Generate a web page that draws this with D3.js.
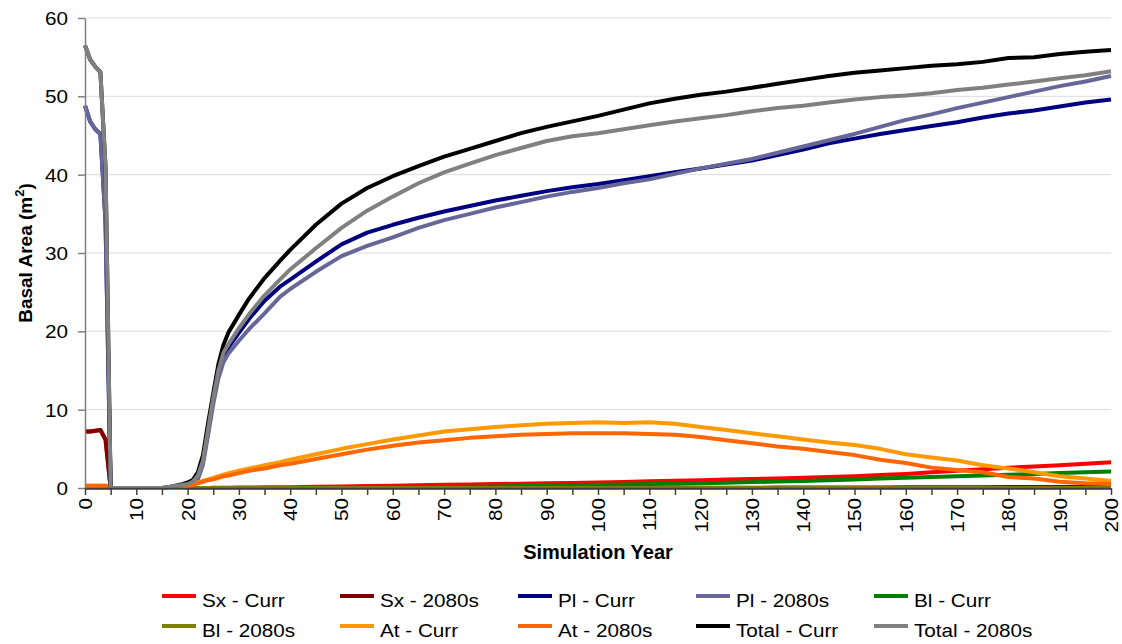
<!DOCTYPE html>
<html>
<head>
<meta charset="utf-8">
<script src="https://cdnjs.cloudflare.com/ajax/libs/d3/7.8.5/d3.min.js"></script>
<style>
  body { margin: 0; background: #fff; }
  svg { display: block; font-family: "Liberation Sans", Arial, sans-serif; }
</style>
</head>
<body>
<svg id="chart" width="1122" height="644"></svg>
<script>
var WIDTH = 1122;
var HEIGHT = 644;
var MARGIN = {top: 18, right: 11, bottom: 156, left: 85};
var TICK_FONT = 18;
var TEXT_STRETCH = 1.15;

// simulation years
var years = [0,1,2,3,4,5,10,15,17,19,
    20,21,22,23,24,25,26,27,28,30,
    32,35,38,40,45,50,55,60,65,70,
    75,80,85,90,95,100,105,110,115,120,
    125,130,135,140,145,150,155,160,165,170,
    175,180,185,190,195,200];

var sxCurr = [7.2,7.2,7.3,7.4,6.2,0,0,0,0,0,
    0,0,0,0.01,0.01,0.02,0.02,0.03,0.03,0.05,
    0.06,0.08,0.1,0.1,0.15,0.2,0.25,0.3,0.35,0.4,
    0.45,0.5,0.55,0.6,0.65,0.7,0.78,0.85,0.92,1.0,
    1.08,1.15,1.22,1.3,1.4,1.5,1.65,1.8,2.0,2.2,
    2.4,2.6,2.75,2.9,3.1,3.3];

var sx2080 = [7.2,7.2,7.3,7.4,6.2,0,0,0,0,0,
    0,0,0,0,0,0,0,0,0,0,
    0,0,0,0,0,0,0,0,0.01,0.01,
    0.01,0.01,0.01,0.02,0.02,0.02,0.02,0.03,0.03,0.03,
    0.04,0.04,0.05,0.05,0.06,0.06,0.07,0.08,0.09,0.1,
    0.11,0.12,0.13,0.14,0.15,0.15];

var plCurr = [48.8,46.8,45.8,45.2,34,0,0,0,0,0.1,
    0.2,0.5,1.3,3.4,7.2,11.2,14.6,16.9,18.0,19.8,
    21.6,23.9,25.7,26.6,28.9,31.1,32.6,33.6,34.5,35.3,
    36.0,36.7,37.3,37.9,38.4,38.8,39.3,39.8,40.3,40.8,
    41.3,41.8,42.5,43.2,44.0,44.6,45.2,45.7,46.2,46.7,
    47.3,47.8,48.2,48.7,49.2,49.6];

var pl2080 = [48.8,46.8,45.8,45.2,34,0,0,0,0,0.1,
    0.2,0.4,1.1,3.0,6.8,10.7,14.0,16.1,17.2,18.8,
    20.3,22.3,24.4,25.4,27.6,29.6,30.9,32.0,33.2,34.2,
    35.0,35.8,36.5,37.2,37.8,38.3,38.9,39.4,40.1,40.8,
    41.4,42.0,42.8,43.6,44.4,45.2,46.1,47.0,47.7,48.5,
    49.2,49.9,50.6,51.3,51.9,52.6];

var blCurr = [0,0,0,0,0,0,0,0,0,0,
    0,0,0,0,0,0,0,0,0,0,
    0,0,0,0,0,0,0.02,0.05,0.08,0.1,
    0.15,0.2,0.25,0.3,0.35,0.4,0.45,0.5,0.55,0.6,
    0.68,0.75,0.82,0.9,1.0,1.1,1.2,1.3,1.4,1.5,
    1.6,1.7,1.8,1.9,2.0,2.1];

var bl2080 = [0,0,0,0,0,0,0,0,0,0,
    0,0,0,0,0,0,0,0,0,0,
    0,0,0,0,0,0,0,0,0,0,
    0,0,0,0,0,0,0,0,0,0,
    0,0,0,0,0,0,0,0,0,0,
    0,0,0,0,0,0];

var atCurr = [0.3,0.3,0.3,0.3,0.3,0,0,0,0,0.1,
    0.3,0.5,0.7,0.9,1.1,1.3,1.5,1.7,1.9,2.2,
    2.5,2.9,3.3,3.6,4.3,5.0,5.6,6.2,6.7,7.2,
    7.5,7.8,8.0,8.2,8.3,8.4,8.3,8.4,8.2,7.8,
    7.4,7.0,6.6,6.2,5.8,5.5,5.0,4.3,3.9,3.5,
    2.9,2.5,2.0,1.5,1.2,0.9];

var at2080 = [0.3,0.3,0.3,0.3,0.3,0,0,0,0,0.1,
    0.2,0.4,0.6,0.8,1.0,1.1,1.3,1.5,1.6,1.9,
    2.2,2.5,2.9,3.1,3.7,4.3,4.9,5.4,5.8,6.1,
    6.4,6.6,6.8,6.9,7.0,7.0,7.0,6.9,6.8,6.5,
    6.1,5.7,5.3,5.0,4.6,4.2,3.6,3.2,2.6,2.3,
    2.0,1.4,1.2,0.8,0.6,0.5];

var totalCurr = [56.5,54.7,53.8,53.1,41,0,0,0,0.2,0.5,
    0.7,1.0,2.0,4.2,8.3,12.1,15.8,18.3,19.9,22.1,
    24.2,26.8,29.0,30.4,33.6,36.3,38.3,39.8,41.1,42.3,
    43.3,44.3,45.3,46.1,46.8,47.5,48.3,49.1,49.7,50.2,
    50.6,51.1,51.6,52.1,52.6,53.0,53.3,53.6,53.9,54.1,
    54.4,54.9,55.0,55.4,55.7,55.9];

var total2080 = [56.5,54.7,53.8,53.1,41,0,0,0,0.2,0.4,
    0.5,0.8,1.6,3.5,7.5,11.5,15.0,17.3,18.4,20.4,
    22.2,24.6,26.6,27.9,30.6,33.2,35.4,37.2,38.9,40.3,
    41.4,42.5,43.4,44.3,44.9,45.3,45.8,46.3,46.8,47.2,
    47.6,48.1,48.5,48.8,49.2,49.6,49.9,50.1,50.4,50.8,
    51.1,51.5,51.9,52.3,52.7,53.2];

var seriesNames = ["Sx - Curr", "Sx - 2080s", "Pl - Curr", "Pl - 2080s", "Bl - Curr",
    "Bl - 2080s", "At - Curr", "At - 2080s", "Total - Curr", "Total - 2080s"];
var seriesValues = [sxCurr, sx2080, plCurr, pl2080, blCurr,
    bl2080, atCurr, at2080, totalCurr, total2080];
var seriesColors = ["#ff0000", "#800000", "#000080", "#666699", "#008000",
    "#808000", "#ff9900", "#ff6600", "#000000", "#808080"];

var yTicks = [0, 10, 20, 30, 40, 50, 60];

var svg = d3.select("#chart");
var plotW = WIDTH - MARGIN.left - MARGIN.right;
var plotH = HEIGHT - MARGIN.top - MARGIN.bottom;

var x = d3.scaleLinear().domain([0, 200]).range([MARGIN.left, MARGIN.left + plotW]);
var y = d3.scaleLinear().domain([0, 60]).range([MARGIN.top + plotH, MARGIN.top]);

// gridlines
svg.append("g")
    .selectAll("line")
    .data(yTicks.filter(function(d){ return d > 0; }))
    .enter().append("line")
    .attr("x1", MARGIN.left).attr("x2", MARGIN.left + plotW)
    .attr("y1", function(d){ return y(d); })
    .attr("y2", function(d){ return y(d); })
    .style("stroke", "#dcdcdc")
    .style("stroke-width", 1);

// series lines
var line = d3.line()
    .x(function(d, i){ return x(years[i]); })
    .y(function(d){ return y(d); });

seriesValues.forEach(function(vals, k){
    svg.append("path")
        .datum(vals)
        .attr("d", line)
        .style("fill", "none")
        .style("stroke", seriesColors[k])
        .style("stroke-width", 4)
        .style("stroke-linejoin", "round");
});

// y axis
var yAxis = svg.append("g")
    .attr("transform", "translate(" + MARGIN.left + ",0)")
    .call(d3.axisLeft(y).tickValues(yTicks).tickSize(7).tickSizeOuter(0));
yAxis.select(".domain").style("stroke", "#808080").style("stroke-width", 1.5);
yAxis.selectAll(".tick line").style("stroke", "#808080").style("stroke-width", 1.5);
yAxis.selectAll(".tick text")
    .attr("x", null).attr("dy", "0.36em")
    .attr("transform", "translate(-17,0) scale(" + TEXT_STRETCH + ",1)")
    .style("font-size", TICK_FONT + "px")
    .style("font-family", "'Liberation Sans', Arial, sans-serif")
    .style("fill", "#000");

// x axis
var xAxis = svg.append("g")
    .attr("transform", "translate(0," + (MARGIN.top + plotH) + ")")
    .call(d3.axisBottom(x)
        .tickValues(d3.range(0, 201, 5))
        .tickFormat(function(d){ return d % 10 == 0 ? d : ""; })
        .tickSize(7).tickSizeOuter(0));
xAxis.select(".domain").style("stroke", "#404040").style("stroke-width", 1.5);
xAxis.selectAll(".tick line").style("stroke", "#404040").style("stroke-width", 1.5);
xAxis.selectAll(".tick text")
    .attr("x", null).attr("y", null).attr("dy", "0.36em")
    .attr("transform", "translate(0,10) rotate(-90) scale(" + TEXT_STRETCH + ",1)")
    .attr("text-anchor", "end")
    .style("font-size", TICK_FONT + "px")
    .style("font-family", "'Liberation Sans', Arial, sans-serif")
    .style("fill", "#000");

// axis titles
svg.append("text")
    .attr("x", MARGIN.left + plotW / 2)
    .attr("y", 559)
    .attr("text-anchor", "middle")
    .style("font-size", "20px")
    .style("font-weight", "bold")
    .text("Simulation Year");

var yTitle = svg.append("text")
    .attr("transform", "translate(32," + (MARGIN.top + plotH / 2) + ") rotate(-90)")
    .attr("text-anchor", "middle")
    .style("font-size", "19px")
    .style("font-weight", "bold");
yTitle.append("tspan").text("Basal Area (m");
yTitle.append("tspan").attr("dy", -8).style("font-size", "13px").text("2");
yTitle.append("tspan").attr("dy", 8).text(")");

// legend, two rows of five
var legend = svg.append("g");
seriesNames.forEach(function(name, k){
    var col = k % 5;
    var row = Math.floor(k / 5);
    var lx = 162 + col * 178;
    var ly = 596 + row * 30;
    legend.append("line")
        .attr("x1", lx).attr("x2", lx + 34)
        .attr("y1", ly).attr("y2", ly)
        .style("stroke", seriesColors[k])
        .style("stroke-width", 4);
    legend.append("text")
        .attr("transform", "translate(" + (lx + 40) + "," + (ly + 11) + ") scale(" + TEXT_STRETCH + ",1)")
        .style("font-size", TICK_FONT + "px")
        .text(name);
});
</script>
</body>
</html>
